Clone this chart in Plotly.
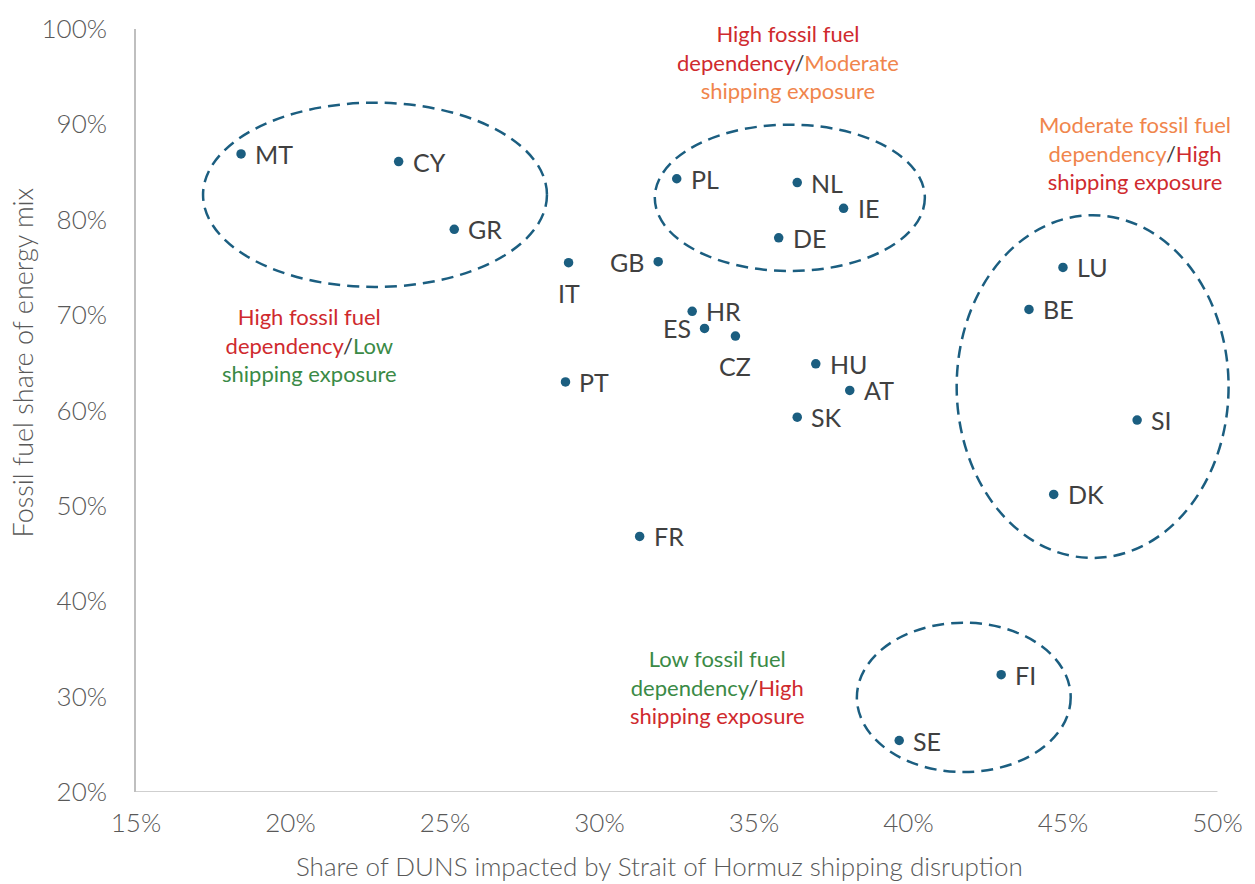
import plotly.graph_objects as go

# Country data: share of DUNS impacted (%) vs fossil fuel share of energy mix (%)
countries = ["MT", "CY", "GR", "IT", "GB", "PL", "NL", "IE", "DE", "HR", "ES", "CZ",
             "HU", "AT", "SK", "PT", "FR", "LU", "BE", "SI", "DK", "FI", "SE"]
duns_share = [18.4, 23.5, 25.3, 29.0, 31.9, 32.5, 36.4, 37.9, 35.8, 33.0, 33.4, 34.4,
              37.0, 38.1, 36.4, 28.9, 31.3, 45.0, 43.9, 47.4, 44.7, 43.0, 39.7]
fossil_share = [86.9, 86.1, 79.0, 75.5, 75.6, 84.3, 83.9, 81.2, 78.1, 70.4, 68.6, 67.8,
                64.9, 62.1, 59.3, 63.0, 46.8, 75.0, 70.6, 59.0, 51.2, 32.3, 25.4]
label_side = ["right", "right", "right", "below", "left", "right", "right", "right", "right",
              "right", "left", "below", "right", "right", "right", "right", "right",
              "right", "right", "right", "right", "right", "right"]

x_ticks = [15, 20, 25, 30, 35, 40, 45, 50]
y_ticks = [20, 30, 40, 50, 60, 70, 80, 90, 100]

# Cluster outlines (x0, x1, y0, y1) in data units
clusters = [
    (17.17, 28.30, 72.95, 92.27),
    (31.79, 40.53, 74.62, 89.97),
    (41.56, 50.36, 44.54, 80.47),
    (38.33, 45.25, 22.09, 37.75),
]

RED = "#CF2A2E"
ORANGE = "#F0854C"
GREEN = "#3A8A46"
SLASH = "#404040"
BLUE = "#1B5E80"
FONT = "Lato"
LIGHT = 300


def span(text, color):
    return f"<span style='color:{color}'>{text}</span>"


# Quadrant captions: (x, y, lines)
captions = [
    (36.09, 96.5, span("High fossil fuel", RED) + "<br>" + span("dependency", RED) + span("/", SLASH)
     + span("Moderate", ORANGE) + "<br>" + span("shipping exposure", ORANGE)),
    (47.32, 87.0, span("Moderate fossil fuel", ORANGE) + "<br>" + span("dependency", ORANGE)
     + span("/", SLASH) + span("High", RED) + "<br>" + span("shipping exposure", RED)),
    (20.63, 66.9, span("High fossil fuel", RED) + "<br>" + span("dependency", RED) + span("/", SLASH)
     + span("Low", GREEN) + "<br>" + span("shipping exposure", GREEN)),
    (33.83, 30.97, span("Low fossil fuel", GREEN) + "<br>" + span("dependency", GREEN)
     + span("/", SLASH) + span("High", RED) + "<br>" + span("shipping exposure", RED)),
]

fig = go.Figure()
fig.add_trace(go.Scatter(
    x=duns_share, y=fossil_share, mode="markers",
    marker=dict(size=9.5, color=BLUE),
    hoverinfo="text", text=countries, showlegend=False,
))

annotations = []
for name, xv, yv, side in zip(countries, duns_share, fossil_share, label_side):
    a = dict(x=xv, y=yv, xref="x", yref="y", text=name, showarrow=False,
             font=dict(family=FONT, size=25, color="#404040"))
    if side == "right":
        a.update(xanchor="left", yanchor="middle", xshift=12)
    elif side == "left":
        a.update(xanchor="right", yanchor="middle", xshift=-12)
    else:
        a.update(xanchor="center", yanchor="top", yshift=-13)
    annotations.append(a)

for cx, cy, txt in captions:
    annotations.append(dict(x=cx, y=cy, xref="x", yref="y", text=txt, showarrow=False,
                            xanchor="center", yanchor="middle", align="center",
                            font=dict(family=FONT, size=22)))

# Axis titles
annotations.append(dict(x=31.95, y=-0.097, xref="x", yref="paper",
                        text="Share of DUNS impacted by Strait of Hormuz shipping disruption",
                        showarrow=False, xanchor="center", yanchor="middle",
                        font=dict(family=FONT, size=26, color="#595959", weight=LIGHT)))
annotations.append(dict(x=-0.1036, y=0.563, xref="paper", yref="paper",
                        text="Fossil fuel share of energy mix", textangle=-90,
                        showarrow=False, xanchor="center", yanchor="middle",
                        font=dict(family=FONT, size=27, color="#595959", weight=LIGHT)))

shapes = []
for x0, x1, y0, y1 in clusters:
    shapes.append(dict(type="circle", xref="x", yref="y", x0=x0, x1=x1, y0=y0, y1=y1,
                       line=dict(color=BLUE, width=2.5, dash="12px,7px"), layer="above"))
# Horizontal axis line across the tick range
shapes.append(dict(type="line", xref="x", yref="y", x0=x_ticks[0], x1=x_ticks[-1],
                   y0=y_ticks[0], y1=y_ticks[0], line=dict(color="#BFBFBF", width=1.5)))

tick_font = dict(family=FONT, size=26, color="#595959", weight=LIGHT)

fig.update_layout(
    width=1255, height=884,
    margin=dict(l=136, r=19, t=26, b=92),
    paper_bgcolor="white", plot_bgcolor="white",
    font=dict(family=FONT, color="#595959"),
    annotations=annotations, shapes=shapes,
    xaxis=dict(range=[15, 50.6], tickvals=x_ticks, ticktext=[f"{v}%" for v in x_ticks],
               showgrid=False, zeroline=False, showline=False, ticks="",
               tickfont=tick_font, ticklabelstandoff=13),
    yaxis=dict(range=[20, 100], tickvals=y_ticks, ticktext=[f"{v}%" for v in y_ticks],
               showgrid=False, zeroline=False, showline=True, linecolor="#BFBFBF", linewidth=1.5,
               ticks="", tickfont=tick_font, ticklabelstandoff=22),
)

fig.write_html("out.html")
